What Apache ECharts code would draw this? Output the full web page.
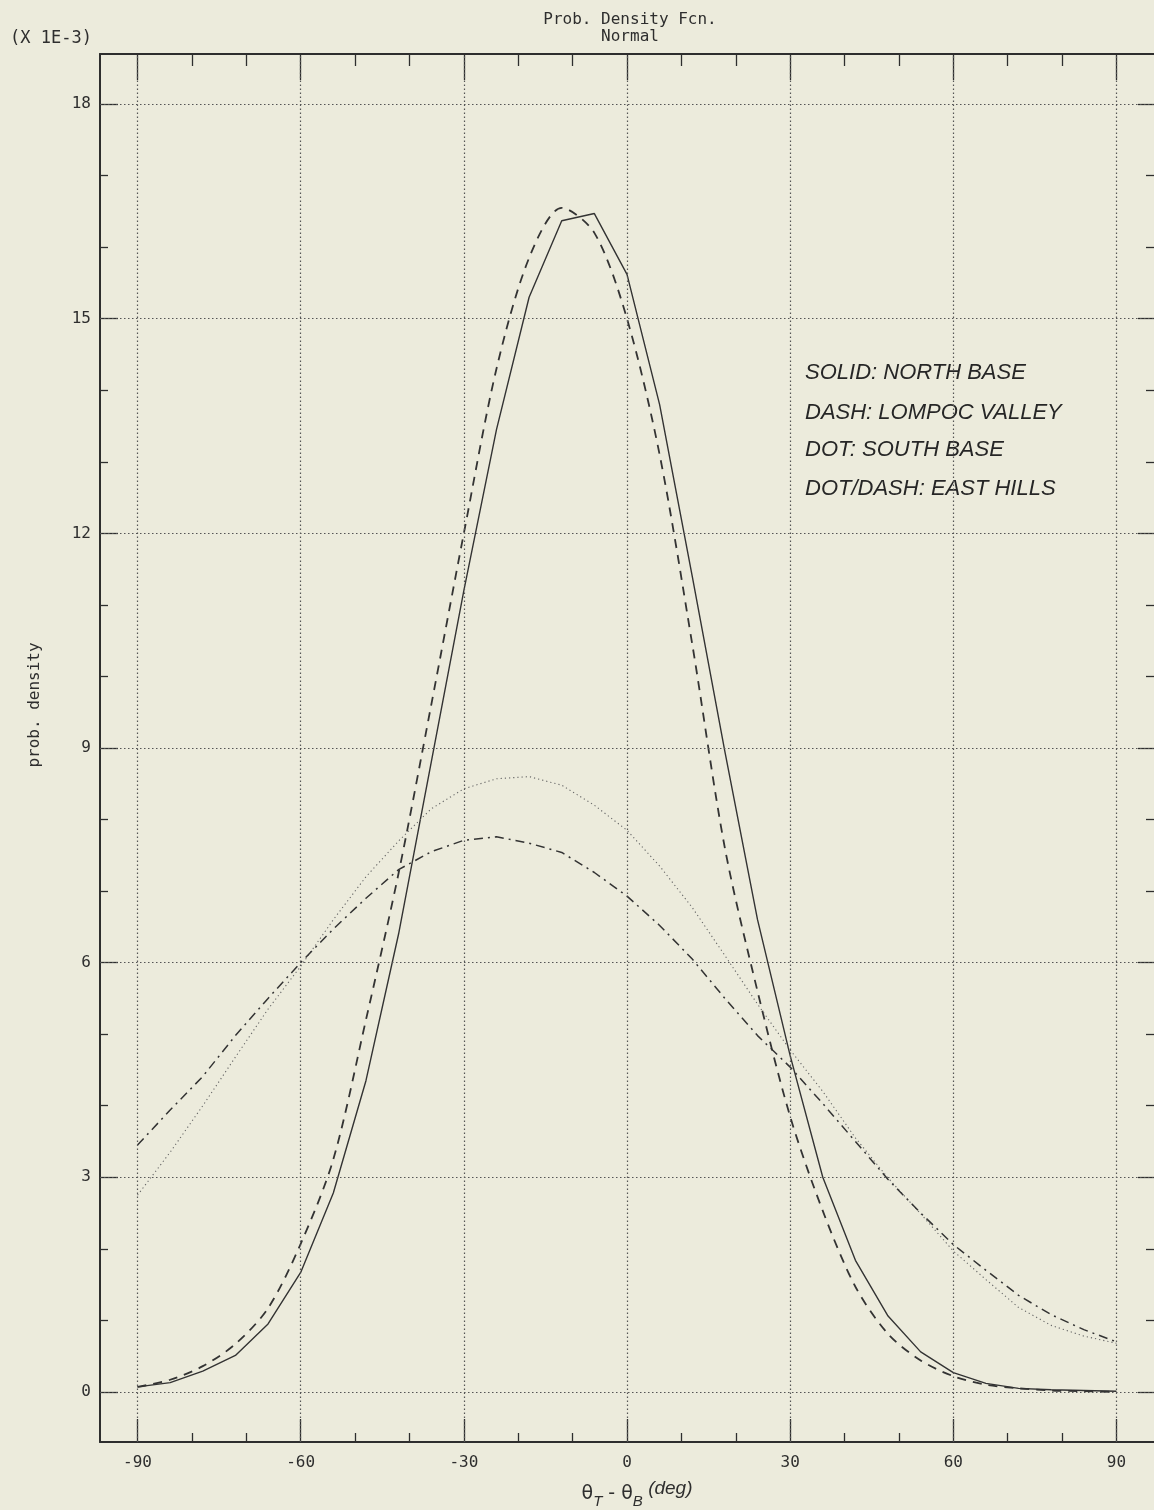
<!DOCTYPE html>
<html>

<head>
  <meta charset="utf-8">
  <title>Prob. Density Fcn. - Normal</title>
  <script src="https://cdn.jsdelivr.net/npm/echarts@6/dist/echarts.min.js"></script>
  <style>
    html, body {
      margin: 0;
      padding: 0;
      background: #ecebdc;
    }

    #main {
      width: 1154px;
      height: 1510px;
    }
  </style>
</head>

<body>
  <div id="main"></div>
  <script>
    // angle theta_T - theta_B (deg), one point every 6 deg
    var angles = [-90, -84, -78, -72, -66, -60, -54, -48, -42, -36, -30, -24, -18, -12, -6, 0,
      6, 12, 18, 24, 30, 36, 42, 48, 54, 60, 66, 72, 78, 84, 90];

    // prob. density (x 1E-3)
    var northBase = [0.07, 0.13, 0.29, 0.51, 0.95, 1.67, 2.78, 4.35, 6.4, 8.8, 11.2, 13.45, 15.3, 16.37, 16.47, 15.62,
      13.8, 11.4, 8.95, 6.6, 4.7, 3.0, 1.84, 1.06, 0.56, 0.27, 0.12, 0.05, 0.03, 0.02, 0.01];
    var lompocValley = [0.07, 0.17, 0.36, 0.67, 1.17, 2.07, 3.25, 5.2, 7.25, 9.6, 12.0, 14.3, 15.85, 16.55, 16.2, 15.0,
      13.1, 10.45, 7.6, 5.6, 3.85, 2.53, 1.47, 0.81, 0.44, 0.22, 0.1, 0.05, 0.02, 0.01, 0.0];
    var southBase = [2.75, 3.35, 4.0, 4.68, 5.35, 5.95, 6.6, 7.2, 7.7, 8.15, 8.43, 8.57, 8.6, 8.48, 8.2, 7.85,
      7.35, 6.77, 6.1, 5.42, 4.78, 4.2, 3.55, 2.99, 2.49, 1.97, 1.57, 1.18, 0.93, 0.78, 0.68];
    var eastHills = [3.45, 3.94, 4.41, 4.98, 5.5, 6.0, 6.47, 6.9, 7.3, 7.55, 7.71, 7.76, 7.67, 7.54, 7.26, 6.93,
      6.52, 6.05, 5.5, 4.98, 4.54, 4.03, 3.5, 2.97, 2.5, 2.06, 1.7, 1.35, 1.08, 0.87, 0.7];

    // ticks
    var xMajor = [-90, -60, -30, 0, 30, 60, 90];
    var xMinor = [-80, -70, -50, -40, -20, -10, 10, 20, 40, 50, 70, 80];
    var yMajor = [0, 3, 6, 9, 12, 15, 18];
    var yMinor = [1, 2, 4, 5, 7, 8, 10, 11, 13, 14, 16, 17];

    var legendLines = ['SOLID: NORTH BASE', 'DASH: LOMPOC VALLEY', 'DOT: SOUTH BASE', 'DOT/DASH: EAST HILLS'];

    var ink = '#2e2e2e';
    var mono = 'DejaVu Sans Mono';

    function pairs(vals) {
      var out = [];
      for (var i = 0; i < angles.length; i++) {
        out.push([angles[i], vals[i]]);
      }
      return out;
    }

    // one axis = frame side + ticks; labels only on the major bottom/left ones
    function makeAxis(pos, ticks, len, withLine, withLabel, min, max) {
      return {
        type: 'value',
        position: pos,
        min: min,
        max: max,
        axisLine: { show: withLine, onZero: false, lineStyle: { color: ink, width: 2 } },
        axisTick: { show: true, inside: true, length: len, customValues: ticks, lineStyle: { color: ink, width: 1.3 } },
        axisLabel: {
          show: withLabel, customValues: ticks, margin: pos == 'left' ? 9 : 13,
          fontFamily: mono, fontSize: 16, color: ink
        },
        splitLine: { show: false }
      };
    }

    var xMin = -96.9, xMax = 96.9, yMin = -0.7, yMax = 18.7;

    var gridLines = [];
    xMajor.forEach(function (v) { gridLines.push({ xAxis: v }); });
    yMajor.forEach(function (v) { gridLines.push({ yAxis: v }); });

    var mychart = echarts.init(document.getElementById('main'));

    var option = {
      backgroundColor: '#ecebdc',
      animation: false,
      grid: { left: 100, right: -2, top: 54, bottom: 68 },
      xAxis: [
        makeAxis('bottom', xMajor, 23, true, true, xMin, xMax),
        makeAxis('bottom', xMinor, 9, false, false, xMin, xMax),
        makeAxis('top', xMajor, 26, true, false, xMin, xMax),
        makeAxis('top', xMinor, 12, false, false, xMin, xMax)
      ],
      yAxis: [
        makeAxis('left', yMajor, 18, true, true, yMin, yMax),
        makeAxis('left', yMinor, 8, false, false, yMin, yMax),
        // right frame edge falls just outside the picture
        makeAxis('right', yMajor, 16, false, false, yMin, yMax),
        makeAxis('right', yMinor, 8, false, false, yMin, yMax)
      ],
      graphic: [
        { type: 'text', left: 10, top: 30, style: { text: '(X 1E-3)', fontFamily: mono, fontSize: 17, fill: ink } },
        { type: 'text', x: 630, y: 20, style: { text: 'Prob. Density Fcn.', fontFamily: mono, fontSize: 16, fill: ink, align: 'center', verticalAlign: 'middle' } },
        { type: 'text', x: 630, y: 37, style: { text: 'Normal', fontFamily: mono, fontSize: 16, fill: ink, align: 'center', verticalAlign: 'middle' } },
        { type: 'text', x: 35, y: 705, rotation: Math.PI / 2, style: { text: 'prob. density', fontFamily: mono, fontSize: 16, fill: ink, align: 'center', verticalAlign: 'middle' } },
        {
          type: 'text', x: 637, y: 1494,
          style: {
            text: '{t|θ}{s|T}{t| - θ}{s|B}{d| (deg)}',
            align: 'center', verticalAlign: 'middle', fill: ink,
            rich: {
              t: { fontFamily: 'DejaVu Sans', fontSize: 19, lineHeight: 30, verticalAlign: 'middle', fill: ink },
              s: { fontFamily: 'Liberation Sans', fontStyle: 'italic', fontSize: 15, lineHeight: 30, verticalAlign: 'bottom', fill: ink },
              d: { fontFamily: 'Liberation Sans', fontStyle: 'italic', fontSize: 19, lineHeight: 30, verticalAlign: 'top', fill: ink }
            }
          }
        }
      ].concat(legendLines.map(function (t, i) {
        return {
          type: 'text', x: 805, y: [373, 413, 450, 489][i],
          style: { text: t, fontFamily: 'Liberation Sans', fontStyle: 'italic', fontSize: 22, fill: '#262626', verticalAlign: 'middle' }
        };
      })),
      series: [
        {
          name: 'grid', type: 'line', data: [], z: 1, silent: true,
          markLine: {
            silent: true, symbol: 'none', label: { show: false },
            lineStyle: { color: '#555', width: 1.2, type: [1.5, 2.5] },
            data: gridLines
          }
        },
        {
          name: 'NORTH BASE', type: 'line', data: pairs(northBase), showSymbol: false, z: 3,
          lineStyle: { color: '#333', width: 1.4, type: 'solid' }
        },
        {
          name: 'LOMPOC VALLEY', type: 'line', data: pairs(lompocValley), showSymbol: false, smooth: 0.3, z: 3,
          lineStyle: { color: '#333', width: 1.8, type: [9, 7] }
        },
        {
          name: 'SOUTH BASE', type: 'line', data: pairs(southBase), showSymbol: false, z: 3,
          lineStyle: { color: '#666', width: 1.1, type: [1.2, 3] }
        },
        {
          name: 'EAST HILLS', type: 'line', data: pairs(eastHills), showSymbol: false, z: 3,
          lineStyle: { color: '#333', width: 1.5, type: [9, 5, 2, 5] }
        }
      ]
    };

    mychart.setOption(option);
  </script>
</body>

</html>
